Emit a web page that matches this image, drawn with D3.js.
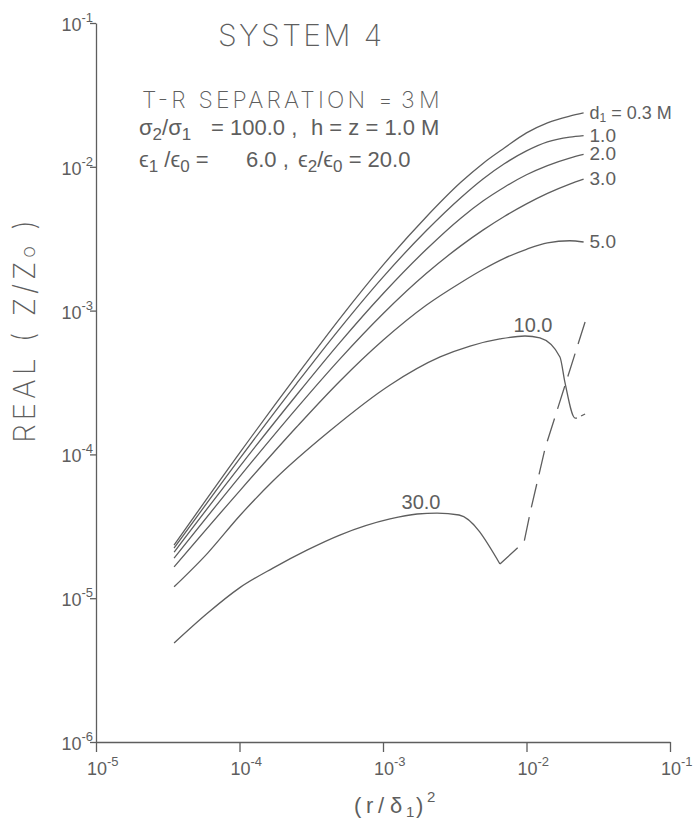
<!DOCTYPE html>
<html><head><meta charset="utf-8">
<script src="https://cdn.jsdelivr.net/npm/d3@7"></script>
<style>body{margin:0;background:#fff} svg{display:block}</style>
</head><body><svg id="c" width="693" height="823"></svg>
<script>
// ---- data ----
const xTicks=[1e-5,1e-4,1e-3,1e-2,1e-1];
const xTickExp=["-5","-4","-3","-2","-1"];
const yTicks=[1e-6,1e-5,1e-4,1e-3,1e-2,1e-1];
const yTickExp=["-6","-5","-4","-3","-2","-1"];

const xGrid=[3.5e-5,1e-4,2.5e-4,5e-4,1e-3,2e-3,3.5e-3,5e-3,7e-3,1e-2,1.4e-2,2e-2,2.5e-2];
const d03=[2.34e-5,1.02e-4,3.53e-4,8.80e-4,2.07e-3,4.48e-3,7.83e-3,1.06e-2,1.35e-2,1.72e-2,2.02e-2,2.25e-2,2.37e-2];
const d10=[2.23e-5,9.31e-5,3.11e-4,7.50e-4,1.71e-3,3.59e-3,6.12e-3,8.26e-3,1.05e-2,1.29e-2,1.49e-2,1.61e-2,1.65e-2];
const d20=[2.09e-5,8.20e-5,2.59e-4,5.99e-4,1.31e-3,2.66e-3,4.41e-3,5.80e-3,7.21e-3,8.80e-3,1.02e-2,1.15e-2,1.22e-2];
const d30=[1.90e-5,6.98e-5,2.09e-4,4.60e-4,9.51e-4,1.81e-3,2.83e-3,3.64e-3,4.51e-3,5.52e-3,6.53e-3,7.58e-3,8.20e-3];
const d50=[1.65e-5,5.56e-5,1.55e-4,3.23e-4,6.22e-4,1.09e-3,1.57e-3,1.94e-3,2.31e-3,2.67e-3,2.96e-3,3.06e-3,3.00e-3];

const d100x=[3.5e-5,6e-5,1e-4,1.71e-4,4.27e-4,1.12e-3,2.5e-3,4.04e-3,6.53e-3,9.76e-3,1.24e-2,1.71e-2,1.85e-2,2.18e-2,2.25e-2];
const d100y=[1.20e-5,2.06e-5,3.73e-5,6.53e-5,1.46e-4,3.04e-4,4.76e-4,5.67e-4,6.35e-4,6.66e-4,6.45e-4,4.76e-4,3.19e-4,1.79e-4,1.79e-4];
const tailX=[2.40e-2,2.56e-2];
const tailY=[1.85e-4,1.91e-4];

const d300x=[3.5e-5,6e-5,1e-4,1.71e-4,2.95e-4,5.0e-4,1.12e-3,1.73e-3,2.38e-3,3.39e-3,6.53e-3];
const d300y=[4.88e-6,7.89e-6,1.18e-5,1.62e-5,2.16e-5,2.75e-5,3.56e-5,3.85e-5,3.91e-5,3.79e-5,1.73e-5];

const dashX=[6.53e-3,9.62e-3,1.07e-2,1.35e-2,2.56e-2];
const dashY=[1.73e-5,2.46e-5,4.1e-5,1.11e-4,8.33e-4];

const endLabels=["0.3","1.0","2.0","3.0","5.0"];
const midLabels=[{t:"10.0",x:1.11e-2,y:7.94e-4},{t:"30.0",x:1.84e-3,y:4.67e-5}];

// ---- chart ----
const ink="#5e5e5e";
const plotFont="Inter, 'Open Sans', 'DejaVu Sans', sans-serif";
const numFont="'Liberation Sans', Arimo, 'Noto Sans', sans-serif";
const svg=d3.select("#c");
const x=d3.scaleLog().domain([1e-5,1e-1]).range([96,670]);
const y=d3.scaleLog().domain([1e-6,1e-1]).range([742,23]);

// axes
const gx=svg.append("g").attr("transform","translate(0,742)")
  .call(d3.axisBottom(x).tickValues(xTicks).tickSize(10).tickSizeOuter(0).tickFormat(()=>""));
const gy=svg.append("g").attr("transform","translate(96,0)")
  .call(d3.axisLeft(y).tickValues(yTicks).tickSize(6).tickSizeOuter(0).tickFormat(()=>""));
[gx,gy].forEach(g=>{g.selectAll("path,line").attr("stroke",ink).attr("stroke-width",1.3);});

// tick labels
svg.append("g").selectAll("text").data(xTicks).join("text")
  .attr("x",d=>x(d)-9).attr("y",775).attr("fill",ink).attr("font-family",numFont).attr("font-size",18)
  .each(function(d,i){const t=d3.select(this);
    t.append("tspan").text("10");
    t.append("tspan").attr("dy",-9).attr("font-size",13).text(xTickExp[i]);});
svg.append("g").selectAll("text").data(yTicks).join("text")
  .attr("x",93).attr("y",d=>y(d)+8).attr("text-anchor","end").attr("fill",ink).attr("font-family",numFont).attr("font-size",18)
  .each(function(d,i){const t=d3.select(this);
    t.append("tspan").text("10");
    t.append("tspan").attr("dy",-9).attr("font-size",13).text(yTickExp[i]);});

// curves
const line=d3.line().x(d=>x(d[0])).y(d=>y(d[1])).curve(d3.curveMonotoneX);
const lin=d3.line().x(d=>x(d[0])).y(d=>y(d[1]));
const smooth=[d03,d10,d20,d30,d50];
const g=svg.append("g").attr("fill","none").attr("stroke",ink).attr("stroke-width",1.3);
smooth.forEach(s=>g.append("path").attr("d",line(xGrid.map((v,i)=>[v,s[i]]))));
g.append("path").attr("d",line(d100x.map((v,i)=>[v,d100y[i]])));
g.append("path").attr("d",lin(tailX.map((v,i)=>[v,tailY[i]])));
g.append("path").attr("d",line(d300x.map((v,i)=>[v,d300y[i]])));
g.append("path").attr("d",lin(dashX.map((v,i)=>[v,dashY[i]]))).attr("stroke-dasharray","24,10");

// end labels
const labX=x(2.75e-2);
smooth.forEach((s,i)=>{
  const t=svg.append("text").attr("x",labX).attr("y",y(s[s.length-1])+6)
    .attr("fill",ink).attr("font-family",numFont).attr("font-size",i===0?18:19);
  if(i===0){
    t.append("tspan").text("d");
    t.append("tspan").attr("dy",3).attr("font-size",12).text("1");
    t.append("tspan").attr("dy",-3).text(" = "+endLabels[i]+" M");
  } else t.text(endLabels[i]);
});
midLabels.forEach(m=>svg.append("text").attr("x",x(m.x)).attr("y",y(m.y)+7).attr("text-anchor","middle")
  .attr("fill",ink).attr("font-family",numFont).attr("font-size",20).text(m.t));

// titles
svg.append("text").attr("x",218).attr("y",46).attr("fill",ink).attr("font-family",plotFont)
  .attr("font-weight",200).attr("font-size",30).attr("textLength",164).attr("lengthAdjust","spacing").text("SYSTEM 4");
svg.append("text").attr("x",142).attr("y",108).attr("fill",ink).attr("font-family",plotFont)
  .attr("font-weight",200).attr("font-size",23).attr("textLength",223).attr("lengthAdjust","spacing").text("T-R SEPARATION");
const tr=svg.append("text").attr("y",108).attr("fill",ink).attr("font-family",plotFont)
  .attr("font-weight",200).attr("font-size",23);
tr.append("tspan").attr("x",378).text("=");
tr.append("tspan").attr("x",401).text("3");
tr.append("tspan").attr("x",419).text("M");

const l2=svg.append("text").attr("y",135).attr("fill",ink).attr("font-family",numFont).attr("font-size",22);
l2.append("tspan").attr("x",139).text("σ");
l2.append("tspan").attr("dy",5).attr("font-size",17).text("2");
l2.append("tspan").attr("dy",-5).text("/σ");
l2.append("tspan").attr("dy",5).attr("font-size",17).text("1");
l2.append("tspan").attr("dy",-5).attr("x",211).text("= 100.0 ,");
l2.append("tspan").attr("x",311).text("h = z = 1.0 M");

const l3=svg.append("text").attr("y",167).attr("fill",ink).attr("font-family",numFont).attr("font-size",22);
l3.append("tspan").attr("x",139).text("ϵ");
l3.append("tspan").attr("dy",5).attr("font-size",17).text("1");
l3.append("tspan").attr("dy",-5).text(" /ϵ");
l3.append("tspan").attr("dy",5).attr("font-size",17).text("0");
l3.append("tspan").attr("dy",-5).text(" =");
l3.append("tspan").attr("x",246).text("6.0 ,");
l3.append("tspan").attr("x",298).text("ϵ");
l3.append("tspan").attr("dy",5).attr("font-size",17).text("2");
l3.append("tspan").attr("dy",-5).text("/ϵ");
l3.append("tspan").attr("dy",5).attr("font-size",17).text("0");
l3.append("tspan").attr("dy",-5).text("  = 20.0");

// axis titles
svg.append("text").attr("transform","translate(35,443) rotate(-90)").attr("fill",ink).attr("font-family",plotFont)
  .attr("font-weight",200).attr("font-size",30).attr("textLength",223).attr("lengthAdjust","spacing")
  .call(t=>{t.append("tspan").text("REAL ( Z/Z");t.append("tspan").attr("font-size",20).text("o");t.append("tspan").text(" )");});
const xt=svg.append("text").attr("y",813).attr("fill",ink).attr("font-family",numFont).attr("font-size",22);
xt.append("tspan").attr("x",354).text("(");
xt.append("tspan").attr("x",366).text("r");
xt.append("tspan").attr("x",378).text("/");
xt.append("tspan").attr("x",390).text("δ");
xt.append("tspan").attr("x",406).attr("dy",4).attr("font-size",15).text("1");
xt.append("tspan").attr("x",416).attr("dy",-4).text(")");
xt.append("tspan").attr("x",427).attr("dy",-11).attr("font-size",15).text("2");
</script></body></html>
